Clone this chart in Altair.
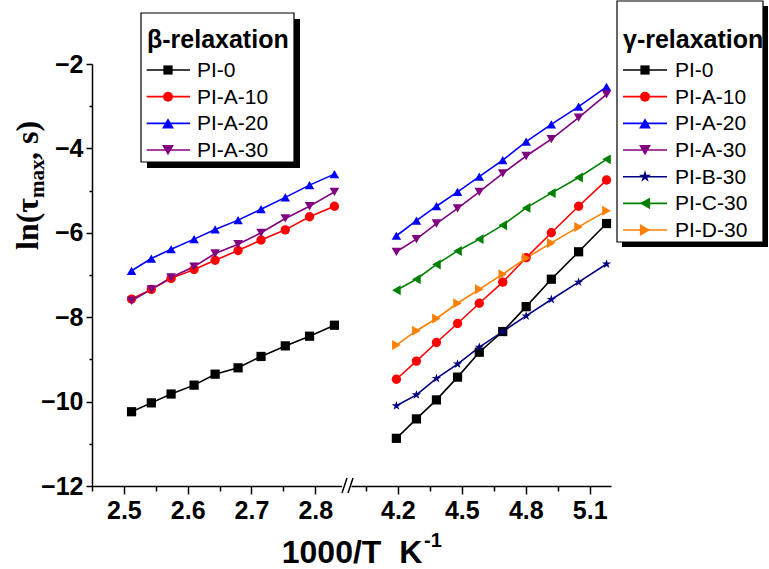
import altair as alt
import pandas as pd

# ---------------- data ----------------
beta_x = [2.512, 2.543, 2.574, 2.610, 2.643, 2.679, 2.715, 2.753, 2.791, 2.830]
beta_PI_0 = [-10.24, -10.03, -9.82, -9.61, -9.35, -9.20, -8.93, -8.68, -8.45, -8.19]
beta_PI_A_10 = [-7.57, -7.34, -7.08, -6.87, -6.65, -6.42, -6.17, -5.93, -5.62, -5.37]
beta_PI_A_20 = [-6.90, -6.61, -6.39, -6.15, -5.92, -5.70, -5.44, -5.16, -4.87, -4.61]
beta_PI_A_30 = [-7.61, -7.34, -7.06, -6.80, -6.49, -6.27, -6.00, -5.66, -5.37, -5.03]

gamma_x = [4.193, 4.287, 4.381, 4.480, 4.582, 4.692, 4.802, 4.920, 5.048, 5.179]
gamma_PI_0 = [-10.87, -10.41, -9.96, -9.42, -8.83, -8.34, -7.75, -7.10, -6.45, -5.78]
gamma_PI_A_10 = [-9.47, -9.04, -8.60, -8.15, -7.67, -7.17, -6.59, -6.00, -5.37, -4.75]
gamma_PI_A_20 = [-6.07, -5.71, -5.37, -5.03, -4.67, -4.28, -3.84, -3.43, -3.01, -2.54]
gamma_PI_A_30 = [-6.45, -6.15, -5.78, -5.42, -5.03, -4.59, -4.18, -3.78, -3.27, -2.72]
gamma_PI_B_30 = [-10.10, -9.84, -9.45, -9.11, -8.71, -8.34, -7.97, -7.58, -7.17, -6.74]
gamma_PI_C_30 = [-7.36, -7.10, -6.75, -6.43, -6.15, -5.82, -5.41, -5.06, -4.69, -4.26]
gamma_PI_D_30 = [-8.66, -8.32, -8.03, -7.67, -7.34, -6.98, -6.60, -6.24, -5.86, -5.48]

beta_names = ["PI-0", "PI-A-10", "PI-A-20", "PI-A-30"]
gamma_names = ["PI-0", "PI-A-10", "PI-A-20", "PI-A-30", "PI-B-30", "PI-C-30", "PI-D-30"]

beta_ticks = [2.45, 2.5, 2.55, 2.6, 2.65, 2.7, 2.75, 2.8]
gamma_ticks = [4.05, 4.2, 4.35, 4.5, 4.65, 4.8, 4.95, 5.1]
y_ticks = [-12, -11, -10, -9, -8, -7, -6, -5, -4, -3, -2]

beta_title = "β-relaxation"
gamma_title = "γ-relaxation"
x_title = "1000/T\u00a0\u00a0K"
x_title_sup = "-1"

# ---------------- styles ----------------
SANS = "Liberation Sans"
SERIF = "Liberation Serif"
STAR = ("M0,-1L0.225,-0.309L0.951,-0.309L0.363,0.118L0.588,0.809L0,0.382"
        "L-0.588,0.809L-0.363,0.118L-0.951,-0.309L-0.225,-0.309Z")
COLORS = {"PI-0": "#000000", "PI-A-10": "#FF0000", "PI-A-20": "#0000FF",
          "PI-A-30": "#800080", "PI-B-30": "#000080", "PI-C-30": "#008000",
          "PI-D-30": "#FF8000"}
SHAPES = {"PI-0": "square", "PI-A-10": "circle", "PI-A-20": "triangle-up",
          "PI-A-30": "triangle-down", "PI-B-30": STAR, "PI-C-30": "triangle-left",
          "PI-D-30": "triangle-right"}
SIZES = {"PI-0": 85, "PI-A-10": 100, "PI-A-20": 140, "PI-A-30": 140,
         "PI-B-30": 160, "PI-C-30": 140, "PI-D-30": 140}
ALL = gamma_names

H = 422
W_LEFT = 259
W_RIGHT = 260
MAJOR_X = "abs(datum.value*10 - round(datum.value*10)) < 0.001"


def one():
    return alt.Data(values=[{"k": 0}])


def long_df(x, series):
    rows = []
    for name, ys in series:
        for xv, yv in zip(x, ys):
            rows.append({"x": xv, "y": yv, "series": name})
    return pd.DataFrame(rows)


def data_layers(df, xdom, xticks, show_y):
    color = alt.Color("series:N", scale=alt.Scale(domain=ALL, range=[COLORS[n] for n in ALL]), legend=None)
    shape = alt.Shape("series:N", scale=alt.Scale(domain=ALL, range=[SHAPES[n] for n in ALL]), legend=None)
    size = alt.Size("series:N", scale=alt.Scale(domain=ALL, range=[SIZES[n] for n in ALL]), legend=None)
    xaxis = alt.Axis(values=xticks, labelExpr=f"({MAJOR_X}) ? format(datum.value, '.1f') : ''",
                     tickSize={"condition": {"test": f"!({MAJOR_X})", "value": 5}, "value": 8},
                     domainColor="black", domainWidth=1.5, tickColor="black", tickWidth=1.5,
                     labelFont=SANS, labelFontSize=25, labelFontWeight="bold", labelColor="black",
                     labelPadding=4, grid=False, title=None, zindex=0, labelOverlap=False,
                     labelFlush=False)
    if show_y:
        yaxis = alt.Axis(values=y_ticks, format="d",
                         labelExpr="datum.value % 2 == 0 ? datum.label : ''",
                         tickSize={"condition": {"test": "datum.value % 2 != 0", "value": 3}, "value": 6},
                         domainColor="black", domainWidth=1.5, tickColor="black", tickWidth=1.5,
                         labelFont=SANS, labelFontSize=25, labelFontWeight="bold", labelColor="black",
                         labelPadding=3, grid=False, title=None, zindex=0, labelOverlap=False,
                         labelFlush=False)
    else:
        yaxis = None
    x = alt.X("x:Q", scale=alt.Scale(domain=xdom, nice=False, zero=False), axis=xaxis)
    y = alt.Y("y:Q", scale=alt.Scale(domain=[-12, -2], nice=False, zero=False), axis=yaxis)
    base = alt.Chart(df)
    lines = base.mark_line(strokeWidth=1.6).encode(x=x, y=y, color=color)
    points = base.mark_point(filled=True, opacity=1).encode(x=x, y=y, color=color, shape=shape, size=size)
    return [lines, points]


def legend_layers(names, title, box, title_pos, row0, line_x, sym_x, text_x, shadow=6, step=26.67):
    x0, x1, y0, y1 = box
    layers = [
        alt.Chart(one()).mark_rect(color="black").encode(
            x=alt.value(x0 + shadow), x2=alt.value(x1 + shadow),
            y=alt.value(y0 + shadow), y2=alt.value(y1 + shadow)),
        alt.Chart(one()).mark_rect(fill="white", stroke="black", strokeWidth=1.2).encode(
            x=alt.value(x0), x2=alt.value(x1), y=alt.value(y0), y2=alt.value(y1)),
        alt.Chart(one()).mark_text(text=title, font=SANS, fontSize=25, fontWeight="bold",
                                   align="left", baseline="alphabetic", color="black").encode(
            x=alt.value(title_pos[0]), y=alt.value(title_pos[1])),
    ]
    for i, n in enumerate(names):
        yy = row0 + step * i
        layers.append(alt.Chart(one()).mark_rule(color=COLORS[n], strokeWidth=1.6).encode(
            x=alt.value(line_x[0]), x2=alt.value(line_x[1]), y=alt.value(yy)))
        layers.append(alt.Chart(one()).mark_point(shape=SHAPES[n], filled=True, opacity=1,
                                                  size=SIZES[n], color=COLORS[n]).encode(
            x=alt.value(sym_x), y=alt.value(yy)))
        layers.append(alt.Chart(one()).mark_text(text=n, font=SANS, fontSize=21, align="left",
                                                 baseline="middle", color="black").encode(
            x=alt.value(text_x), y=alt.value(yy + 1)))
    return layers


beta_df = long_df(beta_x, [("PI-0", beta_PI_0), ("PI-A-10", beta_PI_A_10),
                           ("PI-A-20", beta_PI_A_20), ("PI-A-30", beta_PI_A_30)])
gamma_df = long_df(gamma_x, [("PI-0", gamma_PI_0), ("PI-A-10", gamma_PI_A_10),
                             ("PI-A-20", gamma_PI_A_20), ("PI-A-30", gamma_PI_A_30),
                             ("PI-B-30", gamma_PI_B_30), ("PI-C-30", gamma_PI_C_30),
                             ("PI-D-30", gamma_PI_D_30)])

# axis break marks
breaks = [
    alt.Chart(one()).mark_rule(color="white", strokeWidth=5).encode(
        x=alt.value(250), x2=alt.value(W_LEFT + 1), y=alt.value(H)),
    alt.Chart(one()).mark_rule(color="black", strokeWidth=1.5).encode(
        x=alt.value(250), x2=alt.value(255), y=alt.value(H + 7), y2=alt.value(H - 8)),
    alt.Chart(one()).mark_rule(color="black", strokeWidth=1.5).encode(
        x=alt.value(256), x2=alt.value(261), y=alt.value(H + 7), y2=alt.value(H - 8)),
]

# axis titles
titles = [
    alt.Chart(one()).mark_text(text=x_title, font=SANS, fontSize=32, fontWeight="bold",
                               align="center", baseline="middle", color="black").encode(
        x=alt.value(260), y=alt.value(489)),
    alt.Chart(one()).mark_text(text=x_title_sup, font=SANS, fontSize=20, fontWeight="bold",
                               align="left", baseline="middle", color="black").encode(
        x=alt.value(332), y=alt.value(477)),
]
y_pieces = [("ln(τ", 32, -54, 186), ("max", 21, -48, 186 - 52), (", s)", 32, -54, 186 - 52 - 38)]
for txt, fs, xx, yy in y_pieces:
    titles.append(alt.Chart(one()).mark_text(text=txt, font=SERIF, fontSize=fs, fontWeight="bold",
                                             angle=270, align="left", baseline="alphabetic",
                                             color="black").encode(x=alt.value(xx), y=alt.value(yy)))

anchor = alt.Chart(one()).mark_rule(strokeOpacity=0, opacity=0).encode(
    x=alt.value(-92), x2=alt.value(-92), y=alt.value(-64), y2=alt.value(-64))

left = alt.layer(
    *data_layers(beta_df, [2.45, 2.856], beta_ticks, True),
    *legend_layers(beta_names, beta_title, (49, 202, -51, 98), (55, -16), 6,
                   (54.7, 98), 76, 105),
    *breaks, *titles, anchor,
).properties(width=W_LEFT, height=H)

right = alt.layer(
    *data_layers(gamma_df, [3.98, 5.2], gamma_ticks, False),
    *legend_layers(gamma_names, gamma_title, (266, 412, -63, 178), (272, -16), 6,
                   (272, 316), 294, 324, shadow=5),
).properties(width=W_RIGHT, height=H)

chart = alt.hconcat(left, right, spacing=0, bounds="flush").properties(padding=0).configure_view(stroke=None)

chart.save("out.html", embed_options={"renderer": "svg", "actions": False})
